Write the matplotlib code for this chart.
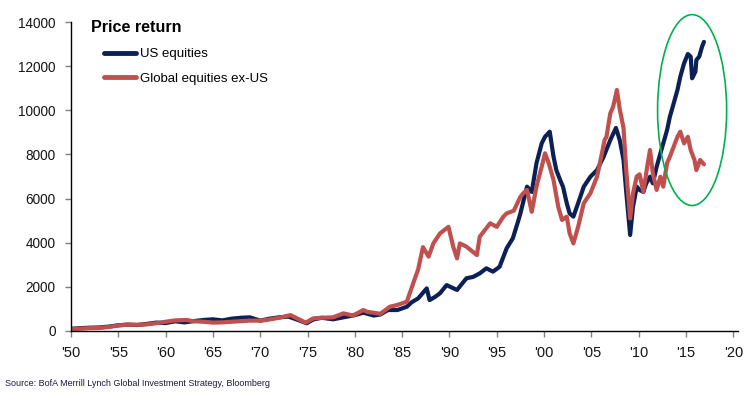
import matplotlib
matplotlib.use("Agg")
import matplotlib.pyplot as plt
from matplotlib.patches import Ellipse

plt.rcParams['font.family'] = ['Liberation Sans', 'DejaVu Sans']

# ---- data ----
us_years = [1950.0, 1951.0, 1952.0, 1953.0, 1954.0, 1955.0, 1956.0, 1957.0, 1958.0, 1959.0,
            1960.0, 1961.0, 1962.0, 1963.0, 1964.0, 1965.0, 1966.0, 1967.0, 1968.0, 1968.9,
            1970.0, 1971.0, 1972.0, 1973.0, 1974.0, 1974.9, 1975.6, 1976.5, 1977.7, 1978.8,
            1980.0, 1980.9, 1982.0, 1982.7, 1983.5, 1984.5, 1985.5, 1986.0, 1986.7, 1987.6,
            1987.9, 1988.5, 1989.0, 1989.7, 1990.8, 1991.8, 1992.5, 1993.2, 1993.9, 1994.6,
            1995.3, 1996.05, 1996.7, 1997.3, 1997.5, 1998.2, 1998.7, 1999.2, 1999.75, 2000.1,
            2000.6, 2001.0, 2001.3, 2001.7, 2002.0, 2002.4, 2002.7, 2003.1, 2003.6, 2004.2,
            2004.9, 2005.6, 2006.3, 2007.0, 2007.6, 2008.0, 2008.4, 2008.7, 2009.1, 2009.4,
            2009.8, 2010.1, 2010.5, 2010.8, 2011.2, 2011.5, 2011.9, 2012.3, 2012.6, 2013.0,
            2013.3, 2013.7, 2014.1, 2014.4, 2014.8, 2015.2, 2015.5, 2015.65, 2016.0, 2016.1,
            2016.4, 2016.7, 2016.9]
us_values = [100, 130, 150, 160, 200, 260, 290, 270, 320, 380,
             360, 440, 390, 450, 500, 530, 480, 560, 600, 620,
             470, 560, 620, 650, 500, 350, 520, 600, 530, 620,
             720, 830, 700, 750, 950, 950, 1100, 1300, 1480, 1930,
             1400, 1550, 1710, 2080, 1860, 2390, 2450, 2610, 2840, 2690,
             2910, 3750, 4200, 5030, 5330, 6540, 6300, 7600, 8500, 8800,
             9030, 7900, 7290, 6840, 6540, 5790, 5330, 5180, 5790, 6540,
             6990, 7290, 7900, 8650, 9200, 8650, 7750, 6240, 4350, 5630,
             6540, 6390, 6300, 6690, 6990, 6690, 7440, 8050, 8500, 9100,
             9710, 10310, 10920, 11520, 12130, 12550, 12430, 11450, 11750, 12280,
             12430, 12880, 13100]

gl_years = [1950.0, 1951.0, 1952.0, 1953.0, 1954.0, 1955.0, 1956.0, 1957.0, 1958.0, 1959.0,
            1960.0, 1961.0, 1962.2, 1963.0, 1964.0, 1965.0, 1966.0, 1967.0, 1968.9, 1970.0,
            1970.7, 1972.0, 1973.2, 1974.0, 1974.8, 1975.6, 1976.5, 1977.7, 1978.8, 1979.8,
            1980.9, 1981.3, 1982.7, 1983.7, 1984.5, 1985.5, 1986.2, 1986.7, 1987.2, 1987.8,
            1988.3, 1989.0, 1989.9, 1990.4, 1990.8, 1991.1, 1991.8, 1992.9, 1993.2, 1994.3,
            1995.0, 1995.7, 1996.05, 1996.8, 1997.5, 1997.8, 1998.2, 1998.7, 1999.2, 1999.75,
            2000.1, 2000.5, 2001.0, 2001.5, 2001.9, 2002.4, 2002.7, 2003.1, 2003.6, 2004.2,
            2004.9, 2005.6, 2005.9, 2006.4, 2006.6, 2007.0, 2007.3, 2007.7, 2008.0, 2008.4,
            2008.7, 2009.1, 2009.4, 2009.8, 2010.1, 2010.5, 2010.9, 2011.2, 2011.5, 2011.9,
            2012.3, 2012.6, 2013.0, 2013.3, 2013.7, 2014.1, 2014.4, 2014.8, 2015.2, 2015.5,
            2015.9, 2016.1, 2016.5, 2016.8, 2016.9]
gl_values = [80, 110, 130, 140, 180, 250, 290, 280, 300, 350,
             420, 480, 500, 440, 420, 380, 390, 420, 470, 470,
             500, 600, 720, 550, 380, 570, 600, 620, 800, 700,
             950, 870, 780, 1100, 1180, 1330, 2200, 2800, 3800, 3370,
             3970, 4420, 4720, 3820, 3290, 3970, 3820, 3440, 4270, 4880,
             4720, 5180, 5330, 5450, 6080, 6240, 6390, 5400, 6540, 7440,
             8050, 7600, 6840, 5630, 5030, 5180, 4430, 3970, 4720, 5790,
             6240, 6990, 7600, 8650, 8800, 9860, 10160, 10920, 10050, 9200,
             7200, 5100, 6240, 7000, 7100, 6300, 7440, 8200, 7140, 6390,
             6990, 6540, 7600, 7900, 8350, 8800, 9030, 8500, 8800, 8200,
             7750, 7290, 7750, 7600, 7550]

series_labels = ['US equities', 'Global equities ex-US']
title_text = 'Price return'
source_text = 'Source: BofA Merrill Lynch Global Investment Strategy, Bloomberg'
x_ticks = list(range(1950, 2021, 5))
x_ticklabels = ["'50", "'55", "'60", "'65", "'70", "'75", "'80", "'85", "'90", "'95",
                "'00", "'05", "'10", "'15", "'20"]
y_ticks = [0, 2000, 4000, 6000, 8000, 10000, 12000, 14000]

NAVY = '#0b2055'
RED = '#c0504d'

W, H = 753, 412
fig = plt.figure(figsize=(W / 100, H / 100), dpi=100)
ax = fig.add_axes([71 / W, 1 - 331 / H, (738 - 71) / W, (331 - 22) / H])

ax.plot(us_years, us_values, color=NAVY, lw=3.0, label=series_labels[0], solid_capstyle='round')
ax.plot(gl_years, gl_values, color=RED, lw=3.0, label=series_labels[1], solid_capstyle='round')

ax.set_xlim(1950, 2020.5)
ax.set_ylim(0, 14000)
ax.set_xticks(x_ticks)
ax.set_xticklabels(x_ticklabels)
ax.set_yticks(y_ticks)
ax.set_yticklabels([str(v) for v in y_ticks])

for s in ['top', 'right']:
    ax.spines[s].set_visible(False)
for s in ['left', 'bottom']:
    ax.spines[s].set_color('black')
    ax.spines[s].set_linewidth(1.0)

ax.tick_params(axis='both', direction='out', length=4, width=1, color='#808080',
               labelcolor='#141414')
ax.tick_params(axis='y', pad=7, labelsize=9.8)
ax.tick_params(axis='x', pad=7, labelsize=10.5)

# green highlight ellipse
ell = Ellipse((2015.65, 10010), width=7.3, height=8650, fill=False,
              edgecolor='#00b050', lw=1.2, clip_on=False, zorder=5)
ax.add_patch(ell)

fig.text(91 / W, 1 - 28 / H, title_text, fontsize=11.6, fontweight='bold', va='center', ha='left')

leg = ax.legend(loc='upper left', bbox_to_anchor=(104 / W, 1 - 48 / H), bbox_transform=fig.transFigure,
                frameon=False, fontsize=9.5, handlelength=2.45, handletextpad=0.3,
                labelspacing=0.95, borderpad=0, borderaxespad=0)
for line in leg.get_lines():
    line.set_linewidth(3.5)

fig.text(5 / W, 1 - 383 / H, source_text, fontsize=6.5, va='center', ha='left',
         family=['Liberation Sans Narrow', 'Liberation Sans', 'DejaVu Sans'], color='#1a1a3a')

fig.savefig('out.png', dpi=100)
